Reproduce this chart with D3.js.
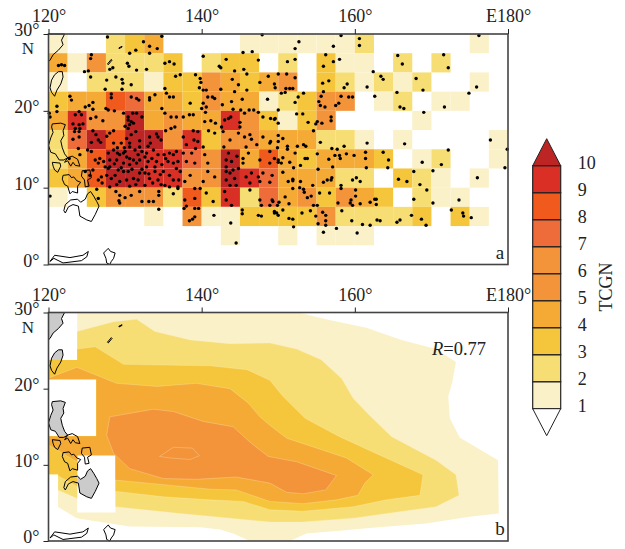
<!DOCTYPE html>
<html>
<head>
<meta charset="utf-8">
<script src="https://cdn.jsdelivr.net/npm/d3@7"></script>
<style>
  html, body { margin: 0; padding: 0; background: #fff; }
  text { font-family: "Liberation Serif", serif; fill: #222; }
</style>
</head>
<body>
<svg id="chart" width="625" height="549"></svg>
<script>
const levels = [1, 2, 3, 4, 5, 6, 7, 8, 9, 10];
const levelColors = ['#fbf1c9', '#f7de74', '#f5c63c', '#f5aa35', '#f3943a', '#f3943a', '#ee6c3a', '#f05a1c', '#d92f25', '#bd2525'];
const lonTicks = [120, 140, 160, 180];
const latTicks = [0, 10, 20, 30];
const cellSize = 2.5;

// TCGN per 2.5 degree box, first row is 27.5-30N, first column 120-122.5E
const tcgnCells = [
  [1,0,0,2,3,4,0,0,0,0,1,1,1,1,1,1,2,0,0,0,0,0,1,0],
  [4,1,5,2,2,2,3,0,2,3,3,0,2,0,3,1,1,0,2,0,2,0,0,0],
  [1,0,2,2,2,1,3,3,5,4,3,4,5,0,3,2,1,2,1,2,0,0,1,0],
  [3,4,4,8,7,4,4,3,5,4,4,1,2,3,5,5,0,1,2,0,1,1,0,0],
  [4,9,5,5,10,4,5,4,4,9,5,3,1,3,5,0,0,0,0,1,0,0,0,0],
  [2,7,10,8,10,10,5,9,3,5,5,4,4,4,2,2,1,0,1,0,0,0,0,1],
  [2,4,8,10,10,9,9,7,5,10,4,8,4,3,4,4,4,3,0,1,2,0,0,1],
  [3,4,8,10,10,9,9,5,5,10,9,7,4,4,4,2,2,0,3,2,1,0,1,0],
  [1,0,3,5,5,5,2,8,3,9,2,7,4,5,3,5,4,3,0,2,1,1,0,0],
  [0,0,0,0,0,1,0,5,1,1,3,3,3,3,5,2,2,2,2,3,0,3,1,0],
  [0,0,0,0,0,0,0,0,0,1,0,0,1,0,1,1,1,0,0,0,0,0,0,0],
  [0,0,0,0,0,0,0,0,0,0,0,0,0,0,0,0,0,0,0,0,0,0,0,0]
];

// genesis points, lon/lat
const genesisPoints = [
  [127.7,29.6],[132.4,29],[134.8,29.7],[134.2,28.1],[133.2,28.4],[147.9,29.9],[121.7,26],[122.1,25.9],[121.3,25.9],
  [125.6,27.3],[125.5,26.8],[125.2,25.2],[124.7,25.1],[130.6,27.5],[131.4,27.9],[133.2,27.5],[128,25.4],[128.4,25.6],
  [130.3,26.2],[130.5,25.8],[131.5,25.3],[132.8,25.4],[135.2,26.2],[135.8,26.4],[136.4,26.1],[140.2,27.1],[142.3,25.8],
  [142.5,25.6],[145.4,27.6],[146.6,27.7],[147.4,26.6],[143.2,26.7],[144.3,25.2],[145.5,25.4],
  [125.5,24.4],[127.6,24],[127.4,22.8],[128.8,24.4],[129.6,24.1],[129.6,22.8],[129.7,23.6],[130.8,23.4],[136.6,24.5],
  [137.2,24.7],[135.2,22.9],[139.2,24.7],[139.8,24.2],[139.9,23.7],[139.7,23],[140.2,22.7],[140.6,22.7],[142.5,22.8],
  [144.8,23.4],[144,24.1],[145.9,24.8],[145.9,22.7],[144.3,22.5],[148.7,24.5],[150,24.8],[147.6,23.7],
  [122.8,21.9],[123,21.4],[128.2,22.2],[128.2,21.7],[130.8,21.8],[131.5,21.6],[131.8,21.4],[133.2,21.7],[133.2,21.4],
  [133.9,22.1],[135.4,22.3],[135.8,21.8],[136.3,21.8],[138.5,21],[140.2,21],[140.8,21.8],[141.4,21.8],[141.7,21.6],
  [140.6,20.5],[142.7,20.8],[143.9,21.2],[145.3,21.5],[148.6,21.5],[144.1,20.2],[145.1,20.1],[125.3,20.7],[125.8,21.1],
  [124.8,20.5],[121.1,20.6],[120.1,19.7],[120.2,19.2],[121.1,19.9],[124,19.9],[123.5,19.5],[124.3,19.5],[123.2,18.3],
  [124,18.2],[124.5,18.3],[123.5,17.7],[124.1,17.7],[125.8,20.2],[125.5,19],[126.2,19.2],[127.1,18.7],[127.5,20.3],
  [127.8,20.1],[128.6,20],[129.8,19.7],[131,19.7],[131.5,19.7],[132.2,19.2],[130.4,19.2],[130.4,18.8],[130.8,18.6],
  [131.1,18.4],[130.6,18.2],[130,18],[130.4,17.7],[134.8,20.3],[135.2,19.7],[136,19.2],[136.7,19.2],[136.5,17.9],
  [136,17.7],[137.6,19.2],[138.4,19.5],[138.9,19.5],[140,20.3],[140.5,19.8],[140.4,18.6],[141.2,18.7],[141.8,18.4],
  [142.6,17.9],[143,18.8],[143.5,19],[143.8,19.2],[145,18.5],[145.6,19.7],[146.2,20.1],[146.8,20.1],[147.4,19.8],
  [148,19.2],[149,19],[149.6,19],[150,20.1],[150,18.4],[145,17.9],
  [158.2,29.8],[152.7,29],[152.2,28.1],[157.2,28.4],[160.6,29.4],[160.6,28.5],[156.2,27.3],[157.2,26.4],[155.9,25.8],
  [158,26.7],[151.2,26.4],[152.2,26.7],[151.1,24.8],[152.2,24.3],[149.5,23.5],[149.6,23],[151,22.9],[151.5,22.9],
  [151.9,22.9],[150.4,22.3],[150.9,22.4],[155.8,23.6],[156.6,23.9],[155.9,22.5],[155.6,21.9],[155.3,21.2],[155.5,20.7],
  [156.1,20.5],[157.5,20.7],[157.9,21],[158.2,21.9],[159.2,21.8],[159.7,21.8],[158.6,23],[159,23.5],[161.6,23.1],
  [162.6,21.9],[162.4,25.1],[163.4,24.5],[163.7,24.1],[165.5,22.4],[165.9,20.5],[166.4,20.3],[165.6,27.2],[166.2,26.1],
  [168,24.2],[168.9,22.7],[171.6,27.3],[172.2,25.6],[174.9,22.3],[175.9,23.1],[176.2,29.8],[171.7,20.5],[169,19.8],
  [153.3,22.3],[152.6,21.8],[152.2,21.1],[152.4,19.6],[153.2,19.6],[153.9,18.5],[155.1,18.6],[154.9,18.3],[155.7,18.4],
  [156.9,19.2],[156.9,18.7],[154.6,17.4],[149.5,18.9],
  [150,16.8],[150.6,16.4],[149,16],[151.2,15.4],[151.2,15],[149.9,15.2],[152.5,15.4],[153.3,15.6],[153.6,15.4],
  [155.5,15.9],[157,15.1],[157.7,15],[158.6,15.4],[161.6,15.8],[166.5,15.7],[177.7,16.2],[172.2,14.9],[179.9,15],
  [152.2,14.5],[150.6,13.9],[149.5,13.8],[150,13.3],[150.4,13.2],[151.5,13.3],[152,12.6],[152.9,12.9],[153.5,13.8],
  [153.8,13.8],[155.1,14.4],[155.2,12.4],[156.6,13.7],[157.1,12.7],[157.4,14.2],[158,14.2],[158.1,13.8],[158.9,14.4],
  [159.9,14.2],[161.4,14.6],[161.4,13.8],[161.5,12.6],[163.7,14.6],[164.4,13.6],[164.3,12.6],[168.8,13.3],[171.3,13],
  [179.6,12.6],[167.7,12.1],[170.2,12.2],[176,11.3],[150.6,12],[149.2,11.6],[148.9,10.7],[151.9,11.1],[151.9,10.9],
  [151.3,10.8],[152.9,10.8],[154.5,10.3],[151.9,9.9],[152.8,10],[153.3,9.8],[153.4,9.4],[154.3,8.9],[153.8,8.7],
  [155.9,10.7],[156.4,11],[156.9,11],[157,11.3],[158.2,10.3],[158.2,9.9],[159.7,11],[160.2,11.3],[160.7,10.8],
  [160.1,9.7],[160.1,8.9],[165.7,11.1],[166.8,10.8],[168.5,10.4],[169.4,9.7],[155.4,9.3],[156.7,9.3],[167.7,8.5],
  [170.2,8],[173.6,8.4],[149.2,8.4],[150.1,8.1],[149.9,7.7],[150.9,8.8],[151.4,7.9],[154.6,7.7],[155.1,7.7],
  [157.8,8],[159.5,8.4],[159.4,8],[159.7,7.7],[160.7,7.9],[162,8.1],[162.6,8.5],[162.8,8.5],[162.8,7.8],
  [149.5,6.9],[149.8,6.7],[150.6,7.1],[151.4,6],[151.9,5.9],[153.1,6.7],[154.2,7],[154.9,6.3],[155.8,6.8],
  [156.2,6.4],[156.2,5.7],[155.2,5.3],[156.2,5.1],[158.3,7],[159.6,5.7],[161,5.2],[162,5.1],[162.9,5.8],
  [163.3,5.7],[165.5,5.5],[165.9,5.8],[167.4,6.4],[168.7,5.9],[169.3,5.1],[172.6,7.1],[174.1,6.7],[174.2,6.3],
  [175.2,6.1],[152,4.9],[157.6,4.7],[155.9,4.2],[160.3,4.1],
  [123.4,17.3],[124,17.3],[123.2,16.3],[124,16.6],[125.8,17.4],[126.2,16.9],[126.5,16.2],[126.8,15.9],[125.6,15.9],
  [128,17.1],[128.5,17.4],[127.6,16.7],[128.5,15.8],[129.5,15.8],[130.2,16.4],[130.8,16.9],[131.4,17.3],[131.9,16.1],
  [130.6,15.8],[130.6,15.3],[129.9,15.2],[135.3,17.4],[133.2,16.6],[134.1,17],[134.3,16.6],[134.7,16.2],[133.3,15.8],
  [133,15.4],[137.6,16.6],[138.9,17.4],[139.5,17.3],[139,16.2],[139.5,16],[138,15.6],[139.2,15.1],[140.2,15.3],
  [140.9,17.4],[141.7,17.1],[142.8,17.3],[144.8,17.1],[143.7,16.2],[145.6,16.6],[146.3,16.9],[146.5,16.3],[147.2,15.6],
  [148,16.6],[150,16],[148.9,15.8],[145.8,15.3],
  [122.7,13.8],[124.1,14.3],[125.1,14.9],[125.6,14.7],[126.1,13.6],[126.7,13.8],[126.5,13.2],[127.8,14.5],[128,13.6],
  [128.5,14.9],[129,14.5],[129.3,14.3],[130,14.7],[130.2,14],[130.6,13.8],[131.3,14.9],[131.7,14.3],[132.2,14.7],
  [131.9,13.6],[132.6,14],[133,13.4],[133.7,14.9],[133.5,13.8],[134.3,14.3],[135.1,14.3],[135.8,14.5],[136.3,14.3],
  [136.7,14.7],[136.9,13.4],[135.6,13.4],[134.8,13],[133.9,12.7],[132.8,12.7],[131.5,13.2],[130.6,13],[129.8,13.2],
  [128.9,13.6],[128,12.7],[127.4,12.7],[137.6,14.5],[138,13.4],[138.7,14.5],[139.1,13.2],[140.4,14.3],[140.8,13.2],
  [143.2,13.6],[143.2,12.7],[143.9,13.4],[144.8,12.5],[145.4,13.8],[146.1,14.5],[145.4,13.2],[147.6,13.6],[148.9,14.7],
  [148.9,13.2],[150,13.6],[129.8,14.5],[131.1,13.6],[132.8,14.5],[134.1,13.4],[136.3,13.2],
  [124.8,12.1],[125.4,11.6],[125.8,12.3],[126.5,11],[126.9,11.4],[127.8,12.5],[127.6,11.6],[128.2,11.2],[128,10.1],
  [128.7,11.6],[129.1,12.3],[129.8,12.1],[130.4,12.1],[131.1,11.2],[130.2,11],[129.3,10.8],[131.9,11.9],[131.7,11],
  [132.6,11.9],[132.6,10.3],[133.2,11.2],[133.9,12.1],[134.3,11],[135,12.1],[135.8,11.6],[136.3,11],[136.7,12.5],
  [137.2,12.1],[135.2,10.3],[135.8,10.1],[136.9,10.1],[137.8,10.8],[138.5,11.6],[140.2,10.8],[140.8,12.1],[141.7,11.4],
  [143.2,12.1],[143.2,11],[143.7,11.9],[143.7,10.3],[144.1,12.3],[144.3,11.2],[144.5,10.3],[145.8,11.4],[146.3,10.6],
  [146.5,11.9],[147.4,11.4],[147.6,10.8],[148,11.9],
  [126.3,9.8],[126.5,8.6],[128.8,9.5],[129.3,9],[130,8.7],[129.2,8.3],[129.3,8],[130.8,9],[131.9,9.5],
  [132.2,8.2],[133.1,8.2],[133.7,8.2],[134.4,9.5],[134.4,9],[136.3,9.2],[136.9,9.9],[137.8,8.4],[139.1,9.9],
  [139.1,8.6],[139.8,9.9],[140.6,9.3],[141.5,8.2],[143,9.5],[143.2,8.4],[143.9,7.7],[146.3,9.7],[147.6,8.4],
  [147.8,7.7],[149.3,8.2],[138,7.6],[120.2,8.9],
  [134.4,7.2],[137.7,7.3],[139.1,7.3],[139.6,7.3],[139.1,6.2],[138.8,5.9],[138.4,5.7],[141.6,6.4],[145.3,7.1],
  [145.3,6.6],[147.4,6.4],[147.8,6.3],[143.8,5.4],[149.5,6.7],[150,6.4],[148.9,7.7],[144.5,2.8],
  [128.6,13.1],[129.5,12.6],[130.9,12.4],[132.2,12.4],[133.1,11.8],[134.6,11.7],[135.3,13.8],[127.2,13.4],[127,10.6],
  [128.9,10.4],[130.6,10.2],[131.4,10.4],[133.6,10.6],[134.7,10.4],[137,11],[129,15.2],[131.9,15.3],[123.9,15.1],
  [144.6,14.1],[143.5,14.5],[142.9,15.3]
];

// filled contours of the simulated density, outermost first
const contour1 = [[120,30],[152.6,30],[156.7,29],[161.5,28],[166.1,26.4],[170.6,25.2],[173.2,23.5],[172.7,20.7],[172.2,19],[172.4,16.1],[173.7,13.6],[178.7,10.6],[178.8,3.6],[175,3.2],[169.3,2.3],[161.9,1.7],[158,1.35],[153.7,1],[151.5,0],[146.3,0],[144.1,1],[142.4,1.5],[139.8,1.8],[130.6,1.9],[123.7,3],[121.2,4.5],[120,4.5]];
const contour2 = [[120,27],[123.7,27.5],[128.5,28.8],[131.5,29.1],[133.9,27.5],[138.5,26.4],[143.7,25.9],[148.9,26],[152.4,25.2],[155.6,23.8],[158.3,21.3],[159.8,18.7],[161.9,16.5],[164.8,13.7],[170.6,10.6],[173.2,8.7],[173.6,6],[170.6,4.5],[166.3,3.9],[159.8,3],[153.2,2.5],[148.9,2.5],[143.7,3],[137.2,3.6],[128.7,4.5],[123.7,5.6],[121.2,6.7],[120,8.6]];
const contour3 = [[120,25],[123.7,25.2],[126.1,25.5],[129.8,23.2],[135,23.1],[141.1,23],[145.9,22.5],[148.9,21.1],[150.6,19],[153.5,16.1],[158,13.7],[163.2,11.3],[168.9,8.7],[168.5,6],[164.1,5.4],[159.8,4.5],[153.2,3.9],[148.9,4.1],[145.4,5.2],[141.1,5.4],[135,5.8],[128.9,6.5],[123.7,7.2],[121.2,8.6],[120,8.7]];
const contour4 = [[120,21.4],[123.7,22.8],[128.9,20.7],[134.2,20.3],[139.3,20.7],[143.7,20],[146.1,18.1],[147.6,16.3],[148.9,15.2],[151.1,13.5],[158.9,10.9],[162.4,8.7],[161.3,7.6],[160.4,6],[157.6,5.4],[153.2,4.9],[148.9,5.2],[144.5,6.7],[141.1,6.8],[135,7.4],[128.7,8],[123.7,10.4],[120,12.6]];
const contour5 = [[128,16.3],[133.7,17.3],[136.3,17],[140.2,15.7],[144.1,15],[146.5,12.8],[148.7,11.1],[152.4,10.4],[157.6,8.6],[156.2,6.7],[153.2,6.2],[151.1,6.4],[148.9,7.6],[144.5,8.4],[139.3,8.1],[135,8.2],[130.6,9.5],[128.5,11.5],[127.6,13.9]];
const contour6 = [[134.5,11.1],[136.3,12.3],[138.8,12.2],[139.7,11.2],[138.5,10.7],[135.9,10.9]];
const contourLevels = [1, 2, 3, 4, 5, 6];
const contourShapes = [contour1, contour2, contour3, contour4, contour5, contour6];

// boxes with no simulated data in panel b, [lon0, lon1, lat0, lat1]
const maskBoxes = [[120, 123.75, 23.75, 30], [120, 126.25, 13.75, 21.25], [123.75, 128.75, 3.75, 11.25], [120, 121.25, 0, 8.75]];

// coastlines
const china = [[120,30],[122.1,30],[121.7,29.2],[121.9,28.6],[121.3,27.9],[120.6,27.3],[120.2,26.6],[120,26.4]];
const taiwan = [[121.3,25.1],[121.8,25.1],[121.9,24.4],[121.6,23.5],[121.1,22.7],[120.8,21.9],[120.4,22.4],[120.2,23],[120.4,24],[120.8,24.7]];
const luzon = [[120.5,18.3],[121.6,18.4],[122.2,18.2],[121.9,17.4],[122,16.8],[121.6,16.1],[121.8,15.2],[122.1,14.4],[122.5,13.9],[122,13.6],[121.4,13.6],[120.9,14.4],[120.3,14.6],[120,15.5],[120.3,16.5],[120.6,17.2],[120.4,17.9]];
const mindanao = [[122,7],[122.2,7.8],[122.9,8.4],[123.8,8.5],[124.2,8.1],[124.8,8.5],[125.1,9.2],[125.5,9.5],[125.9,8.9],[126.3,8.2],[126.6,7.6],[126.1,6.5],[125.6,5.6],[125,5.8],[124.1,6.3],[123.9,7.6],[123.2,7.8],[122.6,7.5],[122.2,6.7]];
const bicol = [[122.5,13.9],[123.1,14.1],[123.8,13.7],[124.1,12.8],[123.5,12.9],[123.2,13.3],[122.9,12.8],[122.5,13.5],[122.1,13.3]];
const mindoro = [[120.5,13.3],[121.5,13.2],[121.6,12.8],[121.2,12],[120.8,12.3],[120.6,12.8]];
const panay = [[121.9,11.6],[122.7,11.7],[123,11.3],[123.3,11.4],[123.7,10.9],[124.2,10.7],[123.8,10.2],[123.8,9.3],[123.1,9.5],[122.8,9.2],[122.5,10.2],[122.1,10.4],[121.8,11.1]];
const samar = [[124.4,12.2],[125.4,12.3],[125.6,11.3],[125.1,11],[125.3,10.2],[124.8,10.1],[124.7,11],[124.3,11.5]];
const ryukyu1 = [[129.2,28.2],[129.6,28.4],[129.6,28.3],[129.2,28.1]];
const ryukyu2 = [[127.7,26.1],[128.2,26.7],[128.3,26.6],[127.8,26]];
const borneoNorth = [[120.2,0.4],[120.8,1.2],[122.8,0.9],[124.5,1.2],[125.2,1.7],[125,1],[124.3,0.5],[121.9,0.2],[120.7,0.8]];
const halmahera = [[127.8,2.1],[128.1,1.7],[128.7,1.5],[128.5,0.8],[128.2,0.4],[128,0],[127.6,0.2],[127.5,0.8],[127.2,1.5]];
const greyLands = [china, taiwan, luzon, mindanao];
const coastOnly = [bicol, mindoro, panay, samar, ryukyu1, ryukyu2, borneoNorth, halmahera];

const svg = d3.select('#chart');
const xScale = d3.scaleLinear().domain([120, 180]).range([48.5, 508]);
const colorScale = d3.scaleThreshold().domain(levels.slice(1)).range(levelColors);

function lineOn(yScale) {
  return d3.line().x(d => xScale(d[0])).y(d => yScale(d[1])).curve(d3.curveLinearClosed);
}

function drawAxes(g, yScale, letter) {
  const top = yScale(30), bottom = yScale(0);
  g.append('rect')
    .attr('x', xScale(120))
    .attr('y', top)
    .attr('width', xScale(180) - xScale(120))
    .attr('height', bottom - top)
    .attr('fill', 'none')
    .attr('stroke', '#444')
    .attr('stroke-width', 1.6);
  const xAxis = d3.axisTop(xScale).tickValues(lonTicks).tickSize(5).tickPadding(7)
    .tickFormat(d => (d === 180 ? 'E180°' : d + '°'));
  const yAxis = d3.axisLeft(yScale).tickValues(latTicks).tickSize(5).tickPadding(4)
    .tickFormat(d => d + '°');
  const xg = g.append('g').attr('transform', 'translate(0,' + top + ')').call(xAxis);
  const yg = g.append('g').attr('transform', 'translate(' + xScale(120) + ',0)').call(yAxis);
  xg.select('.domain').remove();
  yg.select('.domain').remove();
  xg.selectAll('line').attr('stroke', '#222');
  yg.selectAll('line').attr('stroke', '#222');
  xg.selectAll('text').style('font-family', '"Liberation Serif", serif').style('font-size', '18px').attr('fill', '#222');
  yg.selectAll('text').style('font-family', '"Liberation Serif", serif').style('font-size', '18px').attr('fill', '#222').attr('dy', '0.1em');
  g.append('text')
    .attr('x', 28)
    .attr('y', top + 20)
    .attr('text-anchor', 'middle')
    .style('font-size', '17px')
    .text('N');
  g.append('text')
    .attr('x', 500)
    .attr('y', bottom - 6)
    .attr('text-anchor', 'middle')
    .style('font-size', '19px')
    .text(letter);
}

// panel a
const yA = d3.scaleLinear().domain([0, 30]).range([264.5, 34]);
const panelA = svg.append('g');
tcgnCells.forEach((row, r) => {
  row.forEach((v, c) => {
    if (v === 0) return;
    const lon = 120 + c * cellSize;
    const lat = 30 - r * cellSize;
    panelA.append('rect')
      .attr('x', xScale(lon))
      .attr('y', yA(lat))
      .attr('width', xScale(lon + cellSize) - xScale(lon))
      .attr('height', yA(lat - cellSize) - yA(lat))
      .attr('fill', colorScale(v));
  });
});
panelA.selectAll('path.coast')
  .data(greyLands.concat(coastOnly))
  .join('path')
    .attr('class', 'coast')
    .attr('d', lineOn(yA))
    .attr('fill', 'none')
    .attr('stroke', '#000')
    .attr('stroke-width', 1);
panelA.selectAll('circle')
  .data(genesisPoints)
  .join('circle')
    .attr('cx', d => xScale(d[0]))
    .attr('cy', d => yA(d[1]))
    .attr('r', 1.7)
    .attr('fill', '#000');
drawAxes(panelA, yA, 'a');

// panel b
const yB = d3.scaleLinear().domain([0, 30]).range([541, 312.5]);
const panelB = svg.append('g');
const frameBox = 'M' + xScale(120) + ',' + yB(30) + 'H' + xScale(180) + 'V' + yB(0) + 'H' + xScale(120) + 'Z';
const maskPath = maskBoxes.map(b => 'M' + xScale(b[0]) + ',' + yB(b[3]) + 'H' + xScale(b[1]) + 'V' + yB(b[2]) + 'H' + xScale(b[0]) + 'Z').join('');
panelB.append('clipPath')
  .attr('id', 'modelClip')
  .append('path')
    .attr('d', frameBox + maskPath)
    .attr('clip-rule', 'evenodd');
panelB.selectAll('path.land')
  .data(greyLands)
  .join('path')
    .attr('class', 'land')
    .attr('d', lineOn(yB))
    .attr('fill', '#cbcbcb');
panelB.append('g')
  .attr('clip-path', 'url(#modelClip)')
  .selectAll('path')
  .data(contourShapes)
  .join('path')
    .attr('d', lineOn(yB))
    .attr('fill', (d, i) => colorScale(contourLevels[i]))
    .attr('stroke', (d, i) => (i === 0 ? 'none' : '#fbf1c9'))
    .attr('stroke-width', 0.3);
panelB.selectAll('path.coast')
  .data(greyLands.concat(coastOnly))
  .join('path')
    .attr('class', 'coast')
    .attr('d', lineOn(yB))
    .attr('fill', 'none')
    .attr('stroke', '#000')
    .attr('stroke-width', 1);
drawAxes(panelB, yB, 'b');
const rLabel = panelB.append('text')
  .attr('x', 432)
  .attr('y', 355)
  .style('font-size', '18.5px');
rLabel.append('tspan').style('font-style', 'italic').text('R');
rLabel.append('tspan').text('=0.77');

// colour bar
const barLeft = 532.7, barRight = 560.7;
const barY = d3.scaleLinear().domain([1, 10]).range([408.7, 165.7]);
const barG = svg.append('g');
levels.slice(0, 9).forEach(k => {
  barG.append('rect')
    .attr('x', barLeft)
    .attr('y', barY(k + 1))
    .attr('width', barRight - barLeft)
    .attr('height', barY(k) - barY(k + 1))
    .attr('fill', colorScale(k))
    .attr('stroke', '#222')
    .attr('stroke-width', 1.2);
});
const barMid = (barLeft + barRight) / 2;
barG.append('path')
  .attr('d', 'M' + barLeft + ',' + barY(10) + 'L' + barMid + ',' + (barY(10) - 27) + 'L' + barRight + ',' + barY(10) + 'Z')
  .attr('fill', colorScale(10))
  .attr('stroke', '#222')
  .attr('stroke-width', 1);
barG.append('path')
  .attr('d', 'M' + barLeft + ',' + barY(1) + 'L' + barMid + ',' + (barY(1) + 27) + 'L' + barRight + ',' + barY(1) + 'Z')
  .attr('fill', '#fff')
  .attr('stroke', '#222')
  .attr('stroke-width', 1);
const barAxis = d3.axisRight(barY).tickValues(levels).tickSize(0).tickPadding(17).tickFormat(d3.format('d'));
const barAxisG = barG.append('g').attr('transform', 'translate(' + barRight + ',-3)').call(barAxis);
barAxisG.select('.domain').remove();
barAxisG.selectAll('text').style('font-family', '"Liberation Serif", serif').style('font-size', '18px').attr('fill', '#222');
svg.append('text')
  .attr('transform', 'translate(612,287) rotate(-90)')
  .attr('text-anchor', 'middle')
  .style('font-size', '18px')
  .text('TCGN');
</script>
</body>
</html>
